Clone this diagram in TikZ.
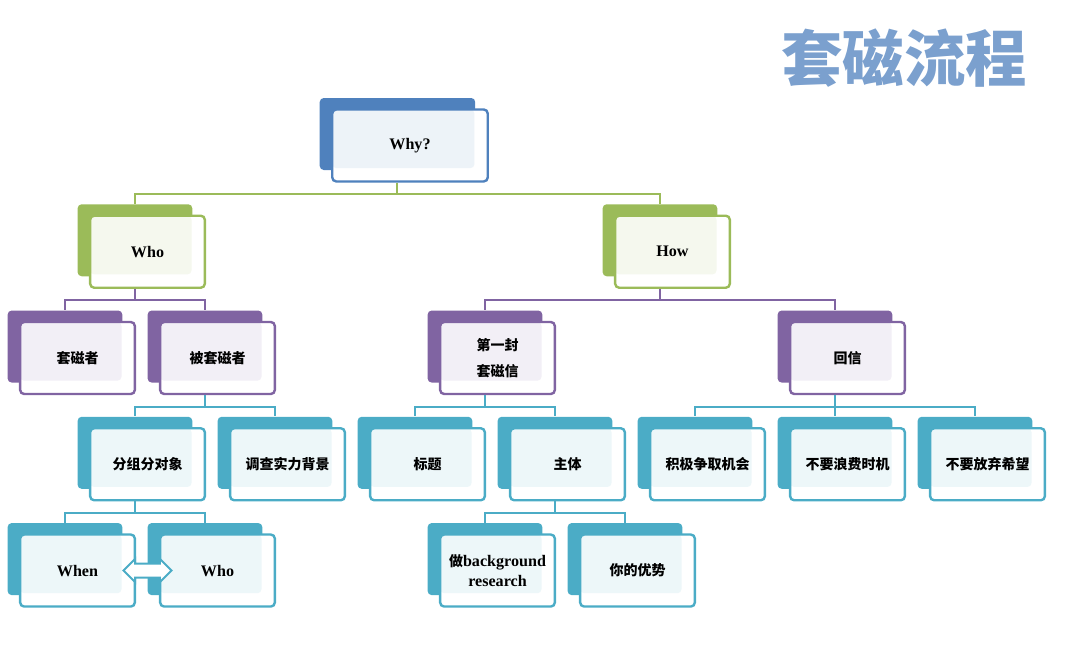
\documentclass[tikz,border=0pt]{standalone}
\usepackage{fontspec}
\setmainfont{Liberation Serif}[Scale=1.15]
\newfontfamily\cjk{Noto Sans CJK SC}
\usetikzlibrary{trees,shadows,shapes.arrows,calc}

\definecolor{whyblue}{HTML}{4F81BD}
\definecolor{lvgreen}{HTML}{9BBB59}
\definecolor{lvpurple}{HTML}{8064A2}
\definecolor{lvaqua}{HTML}{4BACC6}

\newcommand\en[1]{{\rmfamily\bfseries #1}}

\tikzset{
  card/.style={rectangle, rounded corners=3pt, draw=#1, line width=1.8pt, fill=white,
    minimum width=86pt, minimum height=54pt, inner sep=2pt, align=center,
    font=\cjk\bfseries\fontsize{10.5}{15}\selectfont,
    copy shadow={shadow xshift=-9.4pt, shadow yshift=8.6pt, fill=#1, draw=none},
    path picture={\fill[#1!10, rounded corners=3pt] (path picture bounding box.north west)
      rectangle ([xshift=-10pt,yshift=10pt]path picture bounding box.south east);}},
  link/.style={draw=#1, line width=1.5pt},
  swap/.style={double arrow, draw=lvaqua, fill=white, line width=1.5pt, inner xsep=0pt,
    inner ysep=4.5pt, minimum height=36pt, double arrow head extend=3.5pt}
}

\begin{document}
\begin{tikzpicture}[level distance=79.7pt,
  edge from parent path={([xshift=-9.4pt]\tikzparentnode.south) -- ++(0,-8.6pt)
    -| ([xshift=-9.4pt,yshift=8pt]\tikzchildnode.north)},
  level 1/.style={sibling distance=393.75pt, every child node/.style={card=lvgreen},
    edge from parent/.style={link=lvgreen}},
  level 2/.style={sibling distance=105pt, every child node/.style={card=lvpurple},
    edge from parent/.style={link=lvpurple}},
  level 3/.style={sibling distance=105pt, every child node/.style={card=lvaqua},
    edge from parent/.style={link=lvaqua}},
  level 4/.style={sibling distance=105pt, every child node/.style={card=lvaqua},
    edge from parent/.style={link=lvaqua}}]
  \useasboundingbox (0,0) rectangle (799.5pt,-498pt);
  \node[text=whyblue!75, font=\cjk\bfseries\fontsize{46}{50}\selectfont] (title) at (678pt,-43.5pt) {套磁流程};
  \node[card=whyblue, minimum width=116.6pt] (why) at (307.5pt,-109.1pt) {\en{Why?}}
    child {node (who) {\en{Who}}
      child {node (tcz) {套磁者}}
      child {node (btcz) {被套磁者}
        child {node (fenzu) {分组分对象}
          child {node (when) {\en{When}}}
          child {node (whom) {\en{Who}}}
        }
        child {node (diaocha) {调查实力背景}}
      }
    }
    child[level 2/.append style={sibling distance=262.5pt}] {node (how) {\en{How}}
      child {node (first) {第一封\\[5pt]套磁信}
        child {node (biaoti) {标题}}
        child {node (zhuti) {主体}
          child {node (bg) {做\en{background}\\\en{research}}}
          child {node (youshi) {你的优势}}
        }
      }
      child {node (reply) {回信}
        child {node (jiji) {积极争取机会}}
        child {node (buyao1) {不要浪费时机}}
        child {node (buyao2) {不要放弃希望}}
      }
    };
  \node[swap] (arrow) at ($(when.east)!.5!(whom.west)$) {};
\end{tikzpicture}
\end{document}
